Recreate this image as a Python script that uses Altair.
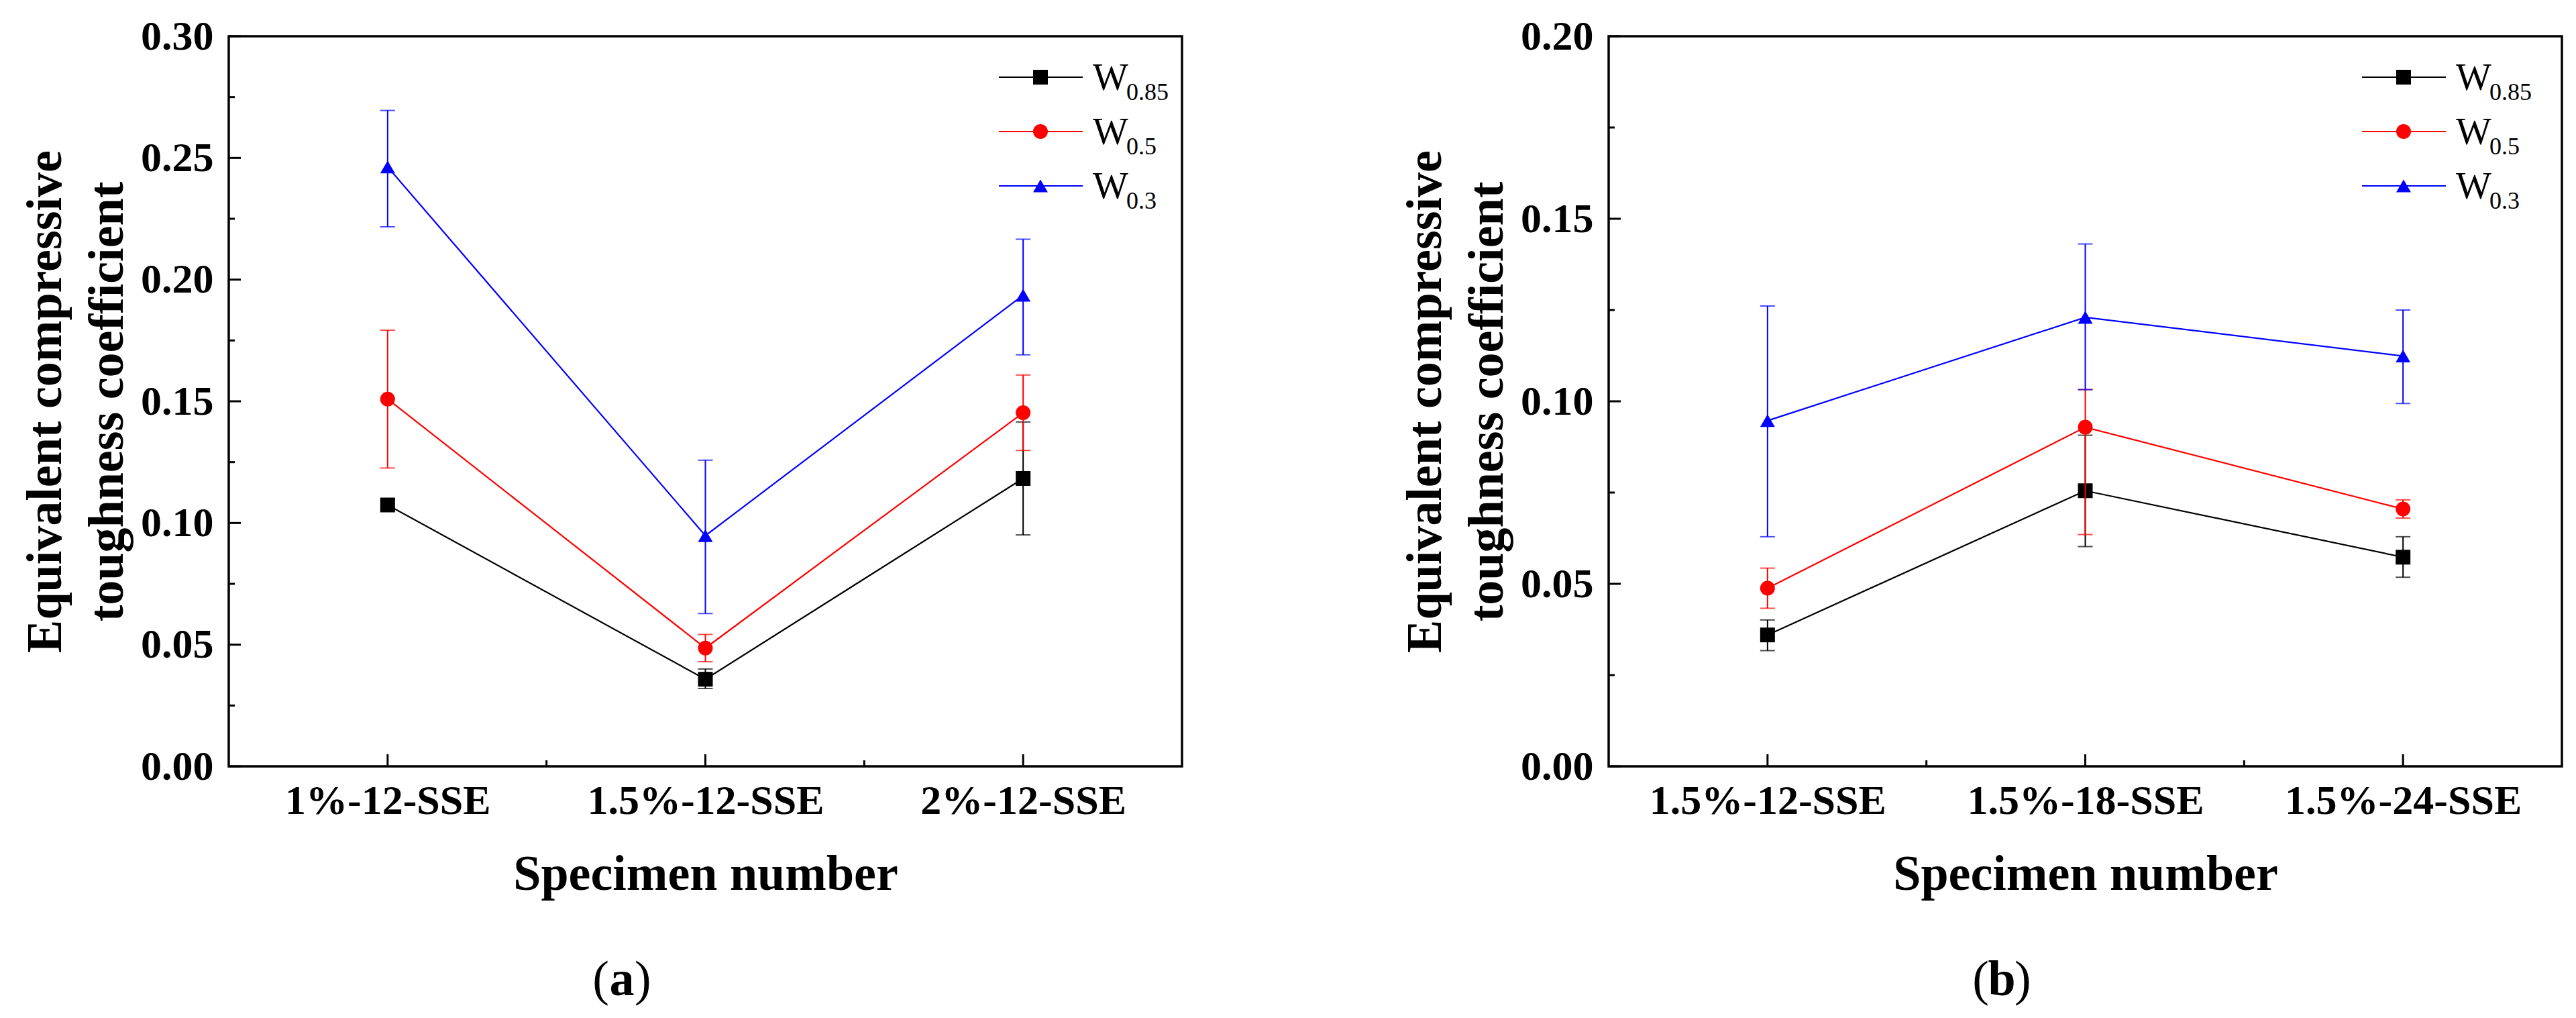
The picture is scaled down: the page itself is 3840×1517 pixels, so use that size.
import altair as alt
import pandas as pd

FONT = "Liberation Serif"

# ---------------- data ----------------
series = ["W0.85", "W0.5", "W0.3"]
series_sub = ["0.85", "0.5", "0.3"]
colors = ["#000000", "#ff0000", "#0000ff"]
shapes = ["square", "circle", "triangle-up"]
sizes = [484, 484, 780]

cats_a = ["1%-12-SSE", "1.5%-12-SSE", "2%-12-SSE"]
a_w085 = [0.1074, 0.0358, 0.1183]
a_w085_lo = [0.1052, 0.0320, 0.0951]
a_w085_hi = [0.1096, 0.0400, 0.1415]
a_w05 = [0.1509, 0.0486, 0.1453]
a_w05_lo = [0.1226, 0.0430, 0.1298]
a_w05_hi = [0.1792, 0.0542, 0.1608]
a_w03 = [0.2463, 0.0948, 0.1936]
a_w03_lo = [0.2217, 0.0628, 0.1691]
a_w03_hi = [0.2695, 0.1258, 0.2166]

cats_b = ["1.5%-12-SSE", "1.5%-18-SSE", "1.5%-24-SSE"]
b_w085 = [0.0360, 0.0755, 0.0573]
b_w085_lo = [0.0317, 0.0602, 0.0518]
b_w085_hi = [0.0401, 0.0907, 0.0629]
b_w05 = [0.0488, 0.0929, 0.0705]
b_w05_lo = [0.0433, 0.0635, 0.0680]
b_w05_hi = [0.0543, 0.1032, 0.0730]
b_w03 = [0.0947, 0.1230, 0.1124]
b_w03_lo = [0.0629, 0.1032, 0.0994]
b_w03_hi = [0.1261, 0.1431, 0.1250]

y_ticks_a = [0.0, 0.05, 0.10, 0.15, 0.20, 0.25, 0.30]
y_minor_a = [0.025, 0.075, 0.125, 0.175, 0.225, 0.275]
y_ticks_b = [0.0, 0.05, 0.10, 0.15, 0.20]
y_minor_b = [0.025, 0.075, 0.125, 0.175]
x_ticks = [0, 1, 2]
x_minor = [0.5, 1.5]


def long_df(cats, groups):
    rows = []
    for s, (m, lo, hi) in zip(series, groups):
        for i, c in enumerate(cats):
            rows.append({"idx": i, "cat": c, "series": s, "mean": m[i], "lo": lo[i], "hi": hi[i]})
    return pd.DataFrame(rows)


df_a = long_df(cats_a, [(a_w085, a_w085_lo, a_w085_hi), (a_w05, a_w05_lo, a_w05_hi), (a_w03, a_w03_lo, a_w03_hi)])
df_b = long_df(cats_b, [(b_w085, b_w085_lo, b_w085_hi), (b_w05, b_w05_lo, b_w05_hi), (b_w03, b_w03_lo, b_w03_hi)])
legend_df = pd.DataFrame({"series": series, "sub": series_sub, "r": [0, 1, 2]})

W, H = 1421, 1088
cscale = alt.Scale(domain=series, range=colors)
sscale = alt.Scale(domain=series, range=shapes)
zscale = alt.Scale(domain=series, range=sizes)


def panel(df, cats, ymax, ymaj, ymin, leg_x, tag):
    xs = alt.Scale(domain=[-0.5, 2.5], nice=False, zero=False)
    ys = alt.Scale(domain=[0, ymax], nice=False, zero=True)
    label_expr = "[" + ",".join("'" + c + "'" for c in cats) + "][datum.value]"
    xaxis = alt.Axis(values=x_ticks, labelExpr=label_expr, title="Specimen number",
                     grid=False, ticks=False, tickSize=0, domain=False, labelFlush=False,
                     labelLimit=0, labelOverlap=False,
                     labelFont=FONT, labelFontSize=62, labelFontWeight="bold", labelColor="black",
                     labelPadding=21, titleFont=FONT, titleFontSize=74, titleFontWeight="bold",
                     titleColor="black", titlePadding=43)
    yaxis = alt.Axis(values=ymaj, format=".2f", title=["Equivalent compressive", "toughness coefficient"],
                     grid=False, ticks=False, tickSize=0, domain=False, labelFlush=False,
                     labelLimit=0, labelOverlap=False,
                     labelFont=FONT, labelFontSize=62, labelFontWeight="bold", labelColor="black",
                     labelPadding=23, titleFont=FONT, titleFontSize=74, titleFontWeight="bold",
                     titleColor="black", titlePadding=11, titleLineHeight=92)
    X = lambda f: alt.X(f + ":Q", scale=xs, axis=xaxis)
    Y = lambda f: alt.Y(f + ":Q", scale=ys, axis=yaxis)

    layers = []
    for s in series:
        base = alt.Chart(df).transform_filter(alt.datum.series == s)
        layers.append(base.mark_line(strokeWidth=2.2).encode(
            x=X("idx"), y=Y("mean"), color=alt.Color("series:N", scale=cscale, legend=None)))
        layers.append(base.mark_rule(strokeWidth=2).encode(
            x=X("idx"), y=Y("lo"), y2="hi", color=alt.Color("series:N", scale=cscale, legend=None)))
        for f in ["lo", "hi"]:
            layers.append(base.mark_tick(orient="horizontal", size=22, thickness=2).encode(
                x=X("idx"), y=Y(f), color=alt.Color("series:N", scale=cscale, legend=None)))
        layers.append(base.mark_point(filled=True, opacity=1).encode(
            x=X("idx"), y=Y("mean"),
            color=alt.Color("series:N", scale=cscale, legend=None),
            shape=alt.Shape("series:N", scale=sscale, legend=None),
            size=alt.Size("series:O", scale=zscale, legend=None)))

    # inward axis ticks
    tw = 3
    tmaj = alt.Chart(pd.DataFrame({"v": ymaj})).mark_rule(color="black", strokeWidth=tw).encode(
        y=Y("v"), x=alt.value(0), x2=alt.value(18))
    tmin = alt.Chart(pd.DataFrame({"v": ymin})).mark_rule(color="black", strokeWidth=tw).encode(
        y=Y("v"), x=alt.value(0), x2=alt.value(9))
    xmaj = alt.Chart(pd.DataFrame({"v": x_ticks})).mark_rule(color="black", strokeWidth=tw).encode(
        x=X("v"), y=alt.value(H), y2=alt.value(H - 18))
    xmin = alt.Chart(pd.DataFrame({"v": x_minor})).mark_rule(color="black", strokeWidth=tw).encode(
        x=X("v"), y=alt.value(H), y2=alt.value(H - 9))
    layers += [tmaj, tmin, xmaj, xmin]

    # custom legend with subscripts
    lx0, lx1, lxm, wx = leg_x
    leg = alt.Chart(legend_df).transform_calculate(
        ly="61 + 81 * datum.r", wy="61 + 81 * datum.r + 19", sy="61 + 81 * datum.r + 34")
    layers.append(leg.mark_rule(strokeWidth=2.2).encode(
        x=alt.value(lx0), x2=alt.value(lx1), y=alt.Y("ly:Q", scale=None, axis=None),
        color=alt.Color("series:N", scale=cscale, legend=None)))
    layers.append(leg.mark_point(filled=True, opacity=1).encode(
        x=alt.value(lxm), y=alt.Y("ly:Q", scale=None, axis=None),
        color=alt.Color("series:N", scale=cscale, legend=None),
        shape=alt.Shape("series:N", scale=sscale, legend=None),
        size=alt.Size("series:O", scale=zscale, legend=None)))
    layers.append(leg.mark_text(text="W", align="left", baseline="alphabetic", font=FONT,
                                fontSize=56, color="black").encode(
        x=alt.value(wx), y=alt.Y("wy:Q", scale=None, axis=None)))
    layers.append(leg.mark_text(align="left", baseline="alphabetic", font=FONT,
                                fontSize=36, color="black").encode(
        x=alt.value(wx + 50), y=alt.Y("sy:Q", scale=None, axis=None), text="sub:N"))

    # panel tag "(a)" / "(b)"
    one = alt.Chart(pd.DataFrame({"k": [0]}))
    layers.append(one.mark_text(text="(", align="right", baseline="alphabetic", font=FONT,
                                fontSize=74, color="black").encode(x=alt.value(567), y=alt.value(1429)))
    layers.append(one.mark_text(text=tag, align="center", baseline="alphabetic", font=FONT,
                                fontSize=74, fontWeight="bold", color="black").encode(
        x=alt.value(586), y=alt.value(1429)))
    layers.append(one.mark_text(text=")", align="left", baseline="alphabetic", font=FONT,
                                fontSize=74, color="black").encode(x=alt.value(605), y=alt.value(1429)))

    # plot frame
    layers.append(one.mark_rect(filled=False, stroke="black", strokeWidth=3.5).encode(
        x=alt.value(0), x2=alt.value(W), y=alt.value(0), y2=alt.value(H)))

    return alt.layer(*layers).properties(width=W, height=H)


pa = panel(df_a, cats_a, 0.30, y_ticks_a, y_minor_a, (1148, 1273, 1210, 1288), "a")
pb = panel(df_b, cats_b, 0.20, y_ticks_b, y_minor_b, (1123, 1248, 1185, 1263), "b")

chart = alt.hconcat(pa, pb, spacing=323).properties(
    padding={"left": 23, "top": 14, "right": 5, "bottom": 5}
).configure_view(strokeWidth=0).configure(background="white")

chart.save("out.html", embed_options={"renderer": "svg", "actions": False})
